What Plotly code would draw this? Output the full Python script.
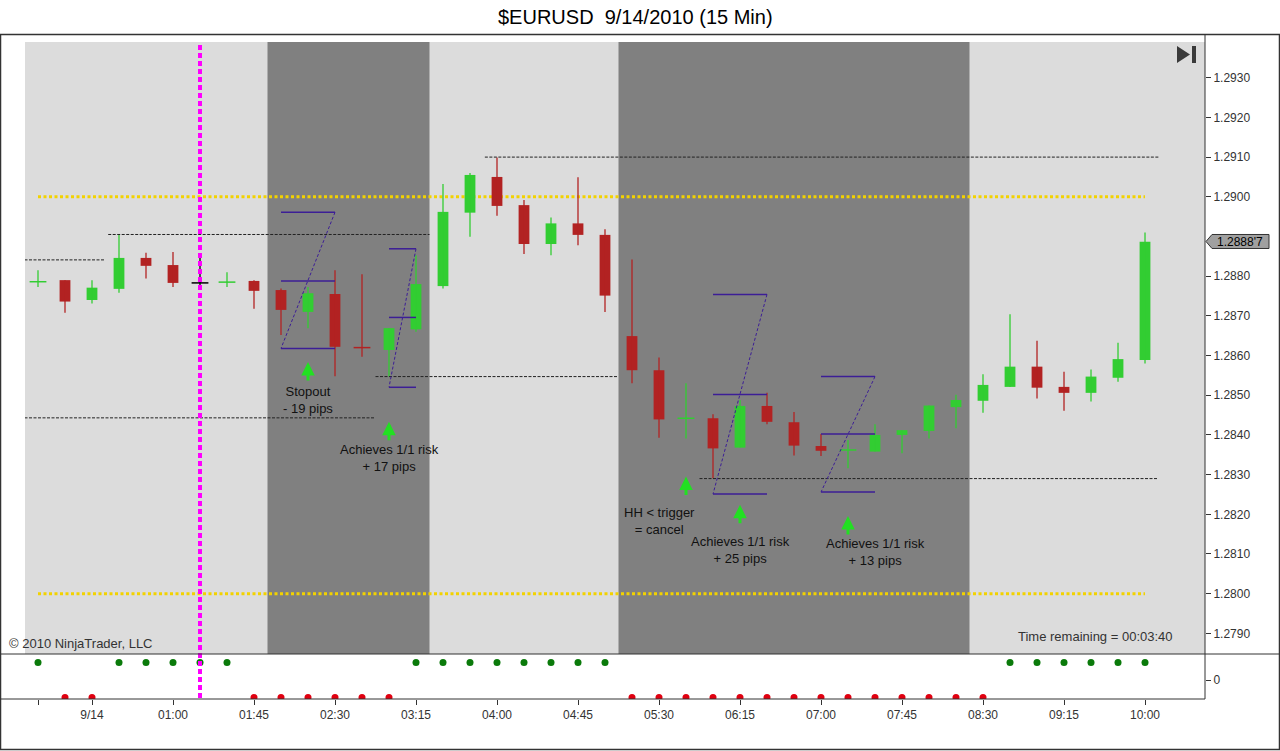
import plotly.graph_objects as go

# 15 min bars, 9/14/2010, index 0..41
bar_open = [1.28786, 1.28790, 1.28740, 1.28768, 1.28846, 1.28828, 1.28783, 1.28785, 1.28788, 1.28765,
            1.28710, 1.28755, 1.28620, 1.28614, 1.28666, 1.28775, 1.28960, 1.29050, 1.28979, 1.28881,
            1.28933, 1.28904, 1.28649, 1.28563, 1.28442, 1.28442, 1.28368, 1.28473, 1.28432, 1.28372,
            1.28362, 1.28358, 1.28400, 1.28410, 1.28470, 1.28486, 1.28521, 1.28572, 1.28521, 1.28506,
            1.28544, 1.28589]
bar_high = [1.28815, 1.28790, 1.28790, 1.28904, 1.28859, 1.28861, 1.28857, 1.28810, 1.28790, 1.28769,
            1.28773, 1.28815, 1.28805, 1.28669, 1.28853, 1.29032, 1.29060, 1.29099, 1.28992, 1.28948,
            1.29049, 1.28918, 1.28842, 1.28595, 1.28530, 1.28452, 1.28488, 1.28506, 1.28458, 1.28402,
            1.28387, 1.28427, 1.28412, 1.28474, 1.28501, 1.28553, 1.28704, 1.28637, 1.28559, 1.28565,
            1.28632, 1.28910]
bar_low = [1.28773, 1.28708, 1.28731, 1.28758, 1.28794, 1.28773, 1.28778, 1.28773, 1.28718, 1.28652,
           1.28669, 1.28548, 1.28597, 1.28547, 1.28660, 1.28769, 1.28899, 1.28952, 1.28856, 1.28853,
           1.28878, 1.28710, 1.28530, 1.28393, 1.28391, 1.28291, 1.28368, 1.28427, 1.28348, 1.28347,
           1.28316, 1.28358, 1.28354, 1.28391, 1.28417, 1.28456, 1.28521, 1.28492, 1.28461, 1.28484,
           1.28534, 1.28580]
bar_close = [1.28786, 1.28736, 1.28771, 1.28846, 1.28826, 1.28783, 1.28783, 1.28785, 1.28763, 1.28715,
             1.28757, 1.28622, 1.28620, 1.28669, 1.28780, 1.28962, 1.29055, 1.28977, 1.28881, 1.28933,
             1.28904, 1.28751, 1.28563, 1.28439, 1.28442, 1.28366, 1.28473, 1.28433, 1.28373, 1.28360,
             1.28362, 1.28400, 1.28412, 1.28474, 1.28488, 1.28526, 1.28572, 1.28519, 1.28506, 1.28547,
             1.28591, 1.28887]
# dojis: which colour the cross gets
doji_kind = {0: "up", 6: "flat", 7: "up", 12: "down", 24: "up", 30: "up"}

# lower panel indicator (+1 green / -1 red)
signal = [1, -1, -1, 1, 1, 1, 1, 1, -1, -1, -1, -1, -1, -1, 1, 1, 1, 1, 1, 1, 1, 1,
          -1, -1, -1, -1, -1, -1, -1, -1, -1, -1, -1, -1, -1, -1, 1, 1, 1, 1, 1, 1]

tick_bars = [0, 2, 5, 8, 11, 14, 17, 20, 23, 26, 29, 32, 35, 38, 41]
tick_text = ["", "9/14", "01:00", "01:45", "02:30", "03:15", "04:00", "04:45", "05:30",
             "06:15", "07:00", "07:45", "08:30", "09:15", "10:00"]
price_ticks = [1.2790, 1.2800, 1.2810, 1.2820, 1.2830, 1.2840, 1.2850, 1.2860,
               1.2870, 1.2880, 1.2900, 1.2910, 1.2920, 1.2930]  # 1.2890 sits under the price tag
last_price_text = "1.2888'7"

dark_sessions = [(8.5, 14.5), (21.5, 34.5)]
target_levels = [1.2900, 1.2800]
marker_bar = 6
# (from bar, to bar, price)
dashed_levels = [(-0.5, 2.5, 1.28841), (2.6, 14.5, 1.28905), (-0.5, 12.5, 1.28443),
                 (12.5, 21.5, 1.28547), (16.55, 41.5, 1.29100), (24.5, 41.5, 1.28290)]
# Z patterns: left bar, right bar, top, entry, stop
z_patterns = [(9, 11, 1.28961, 1.28788, 1.28618), (13, 14, 1.28869, 1.28696, 1.28520),
              (25, 27, 1.28754, 1.28502, 1.28251), (29, 31, 1.28547, 1.28402, 1.28256)]

arrow_bars = [10, 13, 24, 26, 30]
arrow_prices = [1.28584, 1.28433, 1.28295, 1.28224, 1.28196]
note_bars = [10, 13, 23, 26, 31]
note_prices = [1.28487, 1.28343, 1.28184, 1.28109, 1.28106]
note_texts = ["Stopout<br>- 19 pips", "Achieves 1/1 risk<br>+ 17 pips", "HH < trigger<br>= cancel",
              "Achieves 1/1 risk<br>+ 25 pips", "Achieves 1/1 risk<br>+ 13 pips"]

UP, DOWN, FLAT = "#32CD32", "#B22222", "#000000"
ZCOL = "#3C1E96"
FONT = "Arial, Liberation Sans, sans-serif"
W, H = 1280, 751


def px(x):
    return x / W


def py(y):
    return 1 - y / H


def path(points):
    return "M " + " L ".join("%.5f,%.5f" % (px(a), py(b)) for a, b in points) + " Z"


bars = list(range(len(bar_open)))
colors = []
for i, (o, c) in enumerate(zip(bar_open, bar_close)):
    if c > o:
        colors.append(UP)
    elif c < o:
        colors.append(DOWN)
    else:
        colors.append({"up": UP, "down": DOWN, "flat": FLAT}[doji_kind[i]])

fig = go.Figure()

fig.add_trace(go.Bar(x=bars, y=[c - o for o, c in zip(bar_open, bar_close)], base=bar_open,
                     width=0.4, marker=dict(color=colors, line=dict(width=0)),
                     xaxis="x", yaxis="y", hoverinfo="skip"))

for col in (UP, DOWN, FLAT):
    xs, ys = [], []
    for i in bars:
        if colors[i] == col:
            xs += [i, i, None]
            ys += [bar_low[i], bar_high[i], None]
    fig.add_trace(go.Scatter(x=xs, y=ys, mode="lines", line=dict(color=col, width=1.3),
                             xaxis="x", yaxis="y", hoverinfo="skip"))

dj = [i for i in bars if bar_open[i] == bar_close[i]]
fig.add_trace(go.Scatter(x=dj, y=[bar_close[i] for i in dj], mode="markers",
                         marker=dict(symbol="line-ew", size=12,
                                     line=dict(width=1.5, color=[colors[i] for i in dj])),
                         xaxis="x", yaxis="y", hoverinfo="skip"))

fig.add_trace(go.Scatter(x=bars, y=signal, mode="markers",
                         marker=dict(size=7, color=["#0A7A0A" if s > 0 else "#E00010" for s in signal]),
                         xaxis="x2", yaxis="y2", hoverinfo="skip"))

shapes = []
shapes.append(dict(type="rect", xref="x domain", yref="y domain", x0=0, x1=1, y0=0, y1=1,
                   fillcolor="#DCDCDC", line=dict(width=0), layer="below"))
for a, b in dark_sessions:
    shapes.append(dict(type="rect", xref="x", yref="y domain", x0=a, x1=b, y0=0, y1=1,
                       fillcolor="#808080", line=dict(width=0), layer="below"))
for lv in target_levels:
    shapes.append(dict(type="line", xref="x", yref="y", x0=0, x1=41, y0=lv, y1=lv,
                       line=dict(color="#F2D200", width=3, dash="3px,2.5px"), layer="below"))
for a, b, lv in dashed_levels:
    shapes.append(dict(type="line", xref="x", yref="y", x0=a, x1=b, y0=lv, y1=lv,
                       line=dict(color="#222222", width=1, dash="3px,1.5px")))
for a, b, top, mid, bot in z_patterns:
    for lv in (top, mid, bot):
        shapes.append(dict(type="line", xref="x", yref="y", x0=a, x1=b, y0=lv, y1=lv,
                           line=dict(color=ZCOL, width=1.5)))
    shapes.append(dict(type="line", xref="x", yref="y", x0=b, x1=a, y0=top, y1=bot,
                       line=dict(color=ZCOL, width=1, dash="3px,2px")))
shapes.append(dict(type="line", xref="x", yref="paper", x0=marker_bar, x1=marker_bar,
                   y0=py(698), y1=py(42), line=dict(color="#FF00FF", width=4, dash="5px,3px")))

# frame and panel separators
edge = dict(color="#333333", width=1)
shapes += [
    dict(type="rect", xref="paper", yref="paper", x0=px(0.5), x1=px(1279.5), y0=py(749.5), y1=py(34.5),
         line=dict(color="#333333", width=1.5)),
    dict(type="line", xref="paper", yref="paper", x0=px(0), x1=px(1279), y0=py(654), y1=py(654), line=edge),
    dict(type="line", xref="paper", yref="paper", x0=px(1205), x1=px(1205), y0=py(699), y1=py(34.5), line=edge),
    dict(type="line", xref="paper", yref="paper", x0=px(0), x1=px(1205), y0=py(699), y1=py(699), line=edge),
    # jump-to-end button
    dict(type="path", xref="paper", yref="paper", path=path([(1177, 46), (1177, 63), (1190, 54.5)]),
         fillcolor="#3A3A3A", line=dict(width=0)),
    dict(type="rect", xref="paper", yref="paper", x0=px(1192), x1=px(1196), y0=py(63), y1=py(46),
         fillcolor="#3A3A3A", line=dict(width=0)),
    # last price tag
    dict(type="path", xref="paper", yref="paper",
         path=path([(1206, 241.5), (1212, 234.5), (1269, 234.5), (1269, 248.5), (1212, 248.5)]),
         fillcolor="#A0A0A0", line=dict(color="#333333", width=1)),
]

ann = []
for b, p in zip(arrow_bars, arrow_prices):
    ann.append(dict(x=b, y=p, xref="x", yref="y", text="", showarrow=True, ax=0, ay=20,
                    arrowhead=2, arrowsize=0.9, arrowwidth=3, arrowcolor="#22E022"))
for b, p, t in zip(note_bars, note_prices, note_texts):
    ann.append(dict(x=b, y=p, xref="x", yref="y", text=t, showarrow=False,
                    xanchor="center", yanchor="middle",
                    font=dict(family=FONT, size=13, color="#111111")))


def label(x, y, text, size=13, color="#333333", xanchor="center"):
    return dict(x=px(x), y=py(y), xref="paper", yref="paper", text=text, showarrow=False,
                xanchor=xanchor, yanchor="middle", font=dict(family=FONT, size=size, color=color))


ann += [
    label(635, 17, "$EURUSD \u00a09/14/2010 (15 Min)", size=20, color="#000000"),
    label(7, 643, "\u00a9 2010 NinjaTrader, LLC", xanchor="left"),
    label(1175, 636, "Time remaining = 00:03:40", xanchor="right"),
    label(1240, 241.5, last_price_text, size=12, color="#000000"),
]

axis_common = dict(showgrid=False, zeroline=False, showline=False)
fig.update_layout(
    width=W, height=H, margin=dict(l=0, r=0, t=0, b=0),
    paper_bgcolor="#FFFFFF", plot_bgcolor="#FFFFFF", showlegend=False,
    font=dict(family=FONT, size=12, color="#333333"),
    barmode="overlay",
    xaxis=dict(domain=[px(25), px(1205)], range=[-0.4815, 43.222], anchor="y",
               showticklabels=False, ticks="", **axis_common),
    xaxis2=dict(domain=[px(25), px(1205)], range=[-0.4815, 43.222], anchor="y2",
                tickmode="array", tickvals=tick_bars, ticktext=tick_text,
                ticks="outside", ticklen=5, tickcolor="#333333", **axis_common),
    yaxis=dict(domain=[py(654), py(42)], range=[1.27848, 1.29390], anchor="x", side="right",
               tickmode="array", tickvals=price_ticks, tickformat=".4f",
               ticks="outside", ticklen=5, tickcolor="#333333", **axis_common),
    yaxis2=dict(domain=[py(699), py(654)], range=[-1.086, 1.486], anchor="x2", side="right",
                tickmode="array", tickvals=[0], ticktext=["0"],
                ticks="outside", ticklen=5, tickcolor="#333333", **axis_common),
    shapes=shapes, annotations=ann,
)

fig.write_html("out.html", config={"displayModeBar": False},
               post_script="document.body.style.margin='0';")
